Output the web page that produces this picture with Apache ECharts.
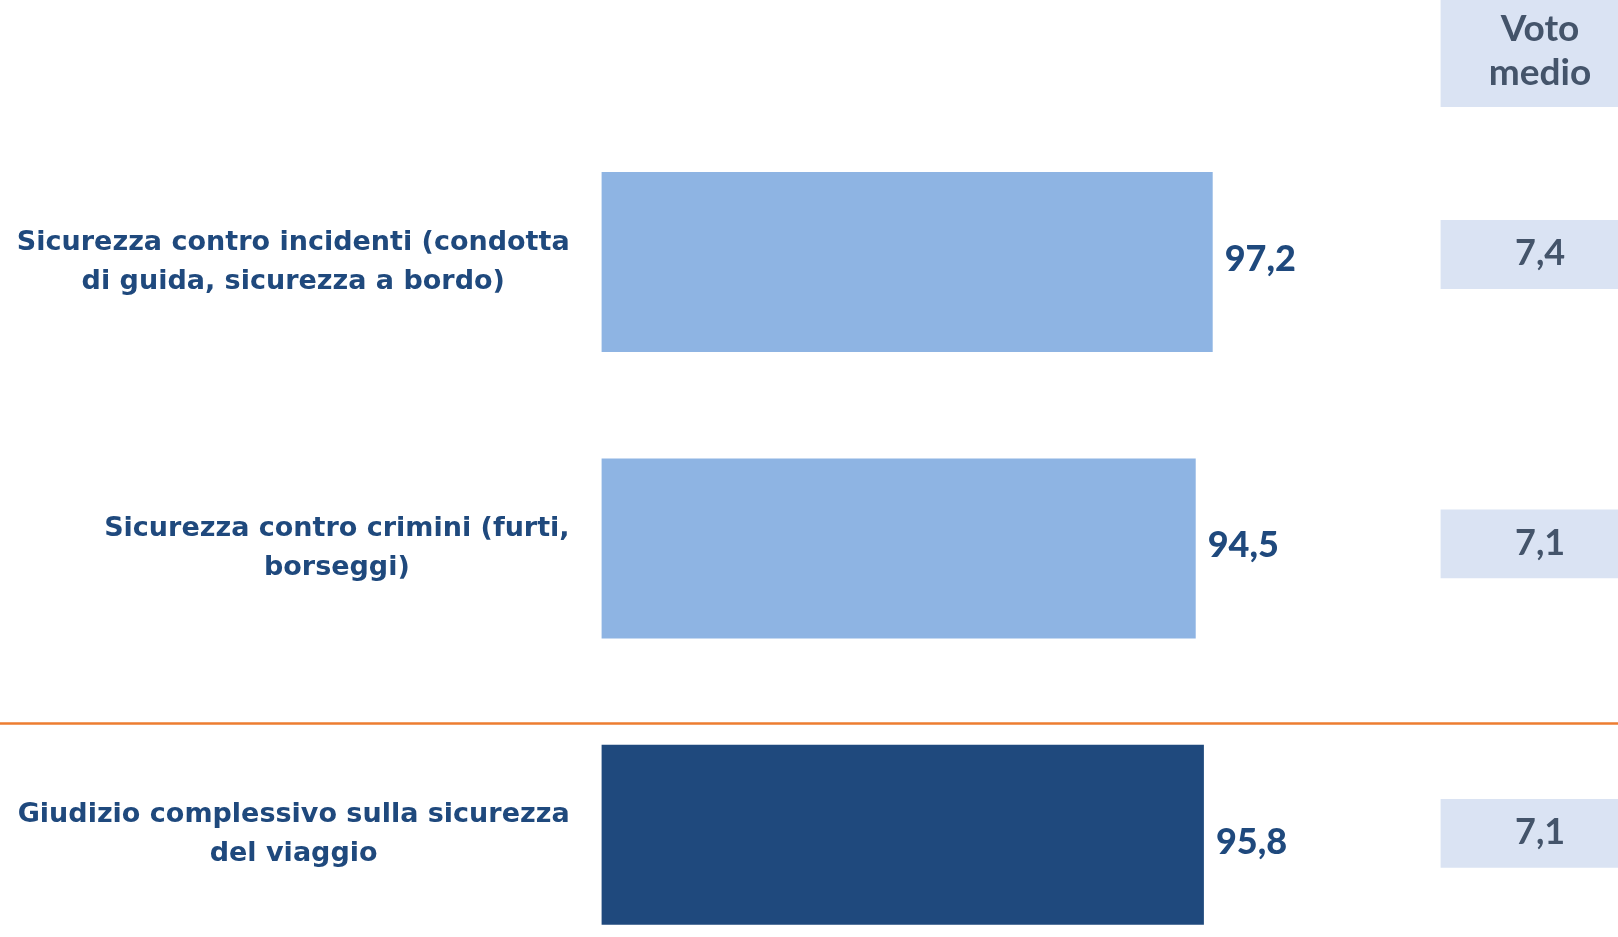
<!DOCTYPE html>
<html>
<head>
<meta charset="utf-8">
<script src="https://cdn.jsdelivr.net/npm/echarts@6/dist/echarts.min.js"></script>
<style>
  html, body { margin: 0; padding: 0; background: #fff; }
  #chart { width: 1618px; height: 937px; }
</style>
</head>
<body>
<div id="chart"></div>
<script>
// dati
const categories = [
  "Sicurezza contro incidenti (condotta\ndi guida, sicurezza a bordo)",
  "Sicurezza contro crimini (furti,\nborseggi)",
  "Giudizio complessivo sulla sicurezza\ndel viaggio"
];
const percentuali = [97.2, 94.5, 95.8];
const votoMedio = [7.4, 7.1, 7.1];
const barColors = ["#8EB4E3", "#8EB4E3", "#1F497D"];
const headerText = "Voto\nmedio";

const FONT = "Lato";
const LABEL_FONT = "DejaVu Sans";
const fmt = v => v.toFixed(1).replace(".", ",");

let chart = echarts.init(document.getElementById("chart"));

chart.setOption({
  animation: false,
  backgroundColor: "#fff",
  grid: [
    { left: 601.6, top: 118.8, width: 628.7, height: 859.2, outerBoundsMode: "none" }, // barre
    { left: 1440.6, top: 109.7, width: 199, height: 868.4, outerBoundsMode: "none" }   // colonna voto medio
  ],
  xAxis: [
    { type: "value", gridIndex: 0, min: 0, max: 100, show: false },
    { type: "value", gridIndex: 1, min: 0, max: 1, show: false }
  ],
  yAxis: [
    {
      type: "category",
      gridIndex: 0,
      inverse: true,
      data: categories,
      axisLine: { show: false },
      axisTick: { show: false },
      axisLabel: {
        margin: 32,
        align: "right",
        // righe centrate dentro il blocco, blocco allineato a destra
        formatter: function (val) {
          return val.split("\n").map(l => "{c|" + l + "}").join("\n");
        },
        rich: {
          c: {
            align: "center",
            fontFamily: LABEL_FONT,
            fontWeight: "bold",
            fontSize: 27,
            lineHeight: 39,
            color: "#1F497D"
          }
        }
      }
    },
    {
      type: "category",
      gridIndex: 1,
      inverse: true,
      data: categories,
      show: false
    }
  ],
  graphic: [
    // intestazione "Voto medio"
    {
      type: "rect",
      shape: { x: 1440.6, y: 0, width: 200, height: 107 },
      style: { fill: "#DAE3F3" },
      z: 1
    },
    {
      type: "text",
      x: 1540,
      y: 51,
      style: {
        text: headerText,
        align: "center",
        verticalAlign: "middle",
        fontFamily: FONT,
        fontWeight: "bold",
        fontSize: 37,
        lineHeight: 44,
        fill: "#44546A"
      },
      z: 2
    },
    // linea arancione di separazione
    {
      type: "line",
      shape: { x1: 0, y1: 723.4, x2: 1618, y2: 723.4 },
      style: { stroke: "#ED7D31", lineWidth: 2.5 },
      z: 3
    }
  ],
  series: [
    {
      type: "bar",
      xAxisIndex: 0,
      yAxisIndex: 0,
      barWidth: 180,
      data: percentuali.map((v, i) => ({
        value: v,
        itemStyle: { color: barColors[i] },
        label: { offset: i === 2 ? [0, 8] : [0, -3] }
      })),
      label: {
        show: true,
        position: "right",
        distance: 12,
        formatter: p => fmt(p.value),
        fontFamily: FONT,
        fontWeight: 900,
        fontSize: 36,
        color: "#1F497D"
      }
    },
    {
      type: "custom",
      xAxisIndex: 1,
      yAxisIndex: 1,
      data: votoMedio.map((v, i) => [v, i]),
      encode: { x: 0, y: 1 },
      renderItem: function (params, api) {
        const cs = params.coordSys;
        const cy = api.coord([0, api.value(1)])[1];
        const h = api.size([0, 1])[1] * 0.238;
        return {
          type: "group",
          children: [
            {
              type: "rect",
              shape: { x: cs.x, y: cy - h / 2, width: cs.width, height: h },
              style: { fill: "#DAE3F3" }
            },
            {
              type: "text",
              x: cs.x + cs.width / 2,
              y: cy - 1,
              style: {
                text: fmt(api.value(0)),
                align: "center",
                verticalAlign: "middle",
                fontFamily: FONT,
                fontWeight: "bold",
                fontSize: 36,
                fill: "#44546A"
              }
            }
          ]
        };
      }
    }
  ]
});
</script>
</body>
</html>
